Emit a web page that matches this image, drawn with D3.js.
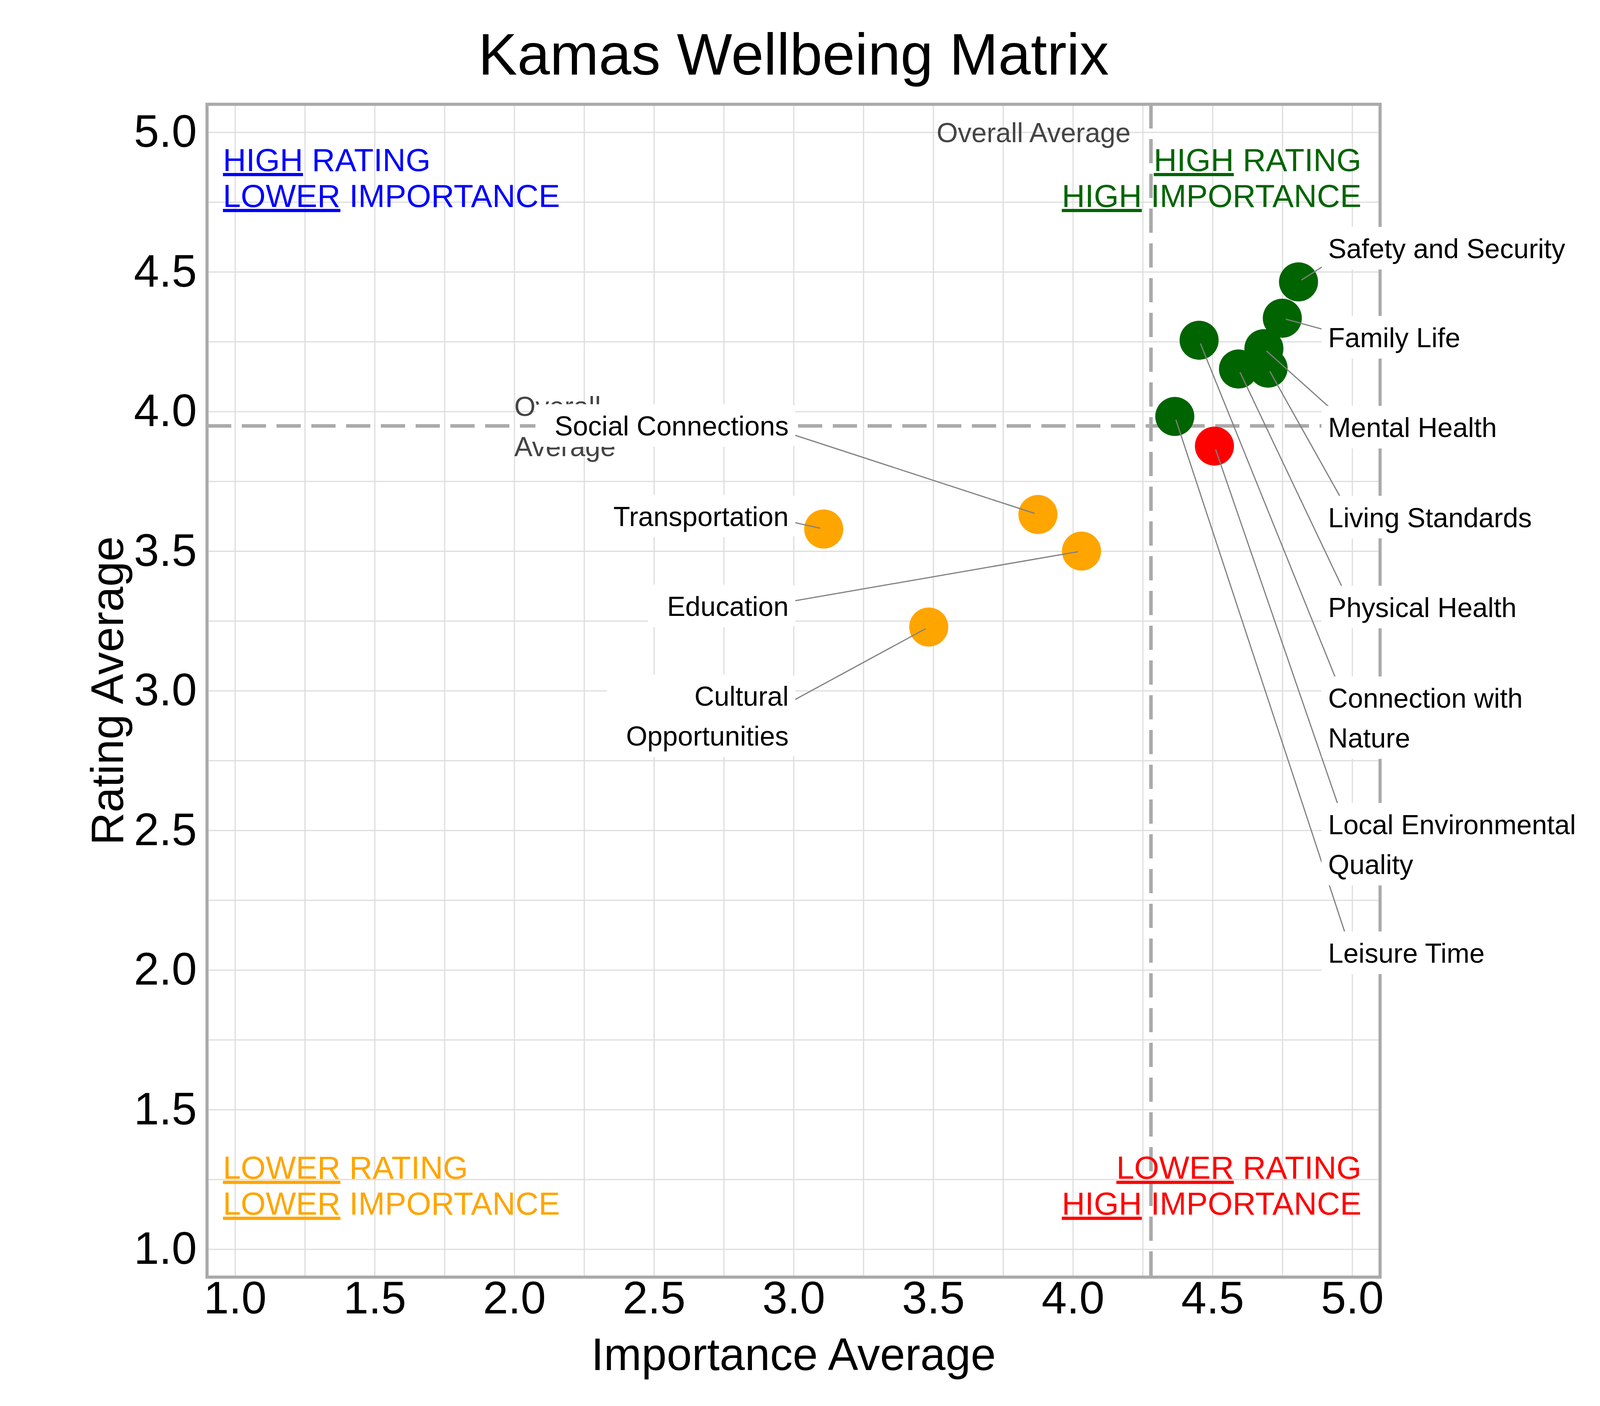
<!DOCTYPE html>
<html>
<head>
<meta charset="utf-8">
<script src="https://cdn.jsdelivr.net/npm/d3@7"></script>
<style>
  body { margin: 0; background: #fff; }
  svg { display: block; font-family: "Liberation Sans", Arial, sans-serif; }
</style>
</head>
<body>
<svg id="chart"></svg>
<script>
// wellbeing factors
const factors = ["Safety and Security", "Family Life", "Mental Health", "Living Standards",
  "Physical Health", "Connection with Nature", "Local Environmental Quality", "Leisure Time",
  "Social Connections", "Education", "Transportation", "Cultural Opportunities"]
const importance = [4.808, 4.750, 4.684, 4.699, 4.593, 4.452, 4.507, 4.365, 3.875, 4.031, 3.108, 3.484]
const rating = [4.464, 4.334, 4.225, 4.155, 4.152, 4.255, 3.876, 3.982, 3.631, 3.500, 3.579, 3.228]

// labels as printed (with their line breaks) and where they were placed, in data units
const labelLines = [["Safety and Security"], ["Family Life"], ["Mental Health"], ["Living Standards"],
  ["Physical Health"], ["Connection with", "Nature"], ["Local Environmental", "Quality"], ["Leisure Time"],
  ["Social Connections"], ["Education"], ["Transportation"], ["Cultural", "Opportunities"]]
const labelX = [4.914, 4.914, 4.914, 4.914, 4.914, 4.914, 4.914, 4.914, 2.9825, 2.9825, 2.9825, 2.9825]
const labelY = [4.549, 4.230, 3.908, 3.586, 3.264, 2.939, 2.486, 2.026, 3.914, 3.268, 3.590, 2.946]

// ticks
const xTicks = [1.0, 1.5, 2.0, 2.5, 3.0, 3.5, 4.0, 4.5, 5.0]
const yTicks = [1.0, 1.5, 2.0, 2.5, 3.0, 3.5, 4.0, 4.5, 5.0]
const gridTicks = [1.0, 1.25, 1.5, 1.75, 2.0, 2.25, 2.5, 2.75, 3.0, 3.25, 3.5, 3.75, 4.0, 4.25, 4.5, 4.75, 5.0]

// quadrant captions: [underlined word, rest]
const quadrantLines = {
  topLeft: [["HIGH", " RATING"], ["LOWER", " IMPORTANCE"]],
  topRight: [["HIGH", " RATING"], ["HIGH", " IMPORTANCE"]],
  bottomLeft: [["LOWER", " RATING"], ["LOWER", " IMPORTANCE"]],
  bottomRight: [["LOWER", " RATING"], ["HIGH", " IMPORTANCE"]]
}

const W = 4200, H = 3600
const margin = {left: 530, right: 667, top: 267, bottom: 330}
const x0 = margin.left, x1 = W - margin.right
const y0 = margin.top, y1 = H - margin.bottom

const x = d3.scaleLinear().domain([0.9, 5.1]).range([x0, x1])
const y = d3.scaleLinear().domain([0.9, 5.1]).range([y1, y0])

const svg = d3.select("#chart").attr("width", W).attr("height", H)
svg.append("rect").attr("width", W).attr("height", H).attr("fill", "#fff")

// grid
const gridX = svg.append("g")
  .attr("transform", "translate(0," + y1 + ")")
  .call(d3.axisBottom(x).tickValues(gridTicks).tickSize(-(y1 - y0)).tickFormat(""))
gridX.select(".domain").remove()
gridX.selectAll("line").attr("stroke", "#dddddd").attr("stroke-width", 3)

const gridY = svg.append("g")
  .attr("transform", "translate(" + x0 + ",0)")
  .call(d3.axisLeft(y).tickValues(gridTicks).tickSize(-(x1 - x0)).tickFormat(""))
gridY.select(".domain").remove()
gridY.selectAll("line").attr("stroke", "#dddddd").attr("stroke-width", 3)

// overall averages
const avgX = d3.mean(importance)
const avgY = d3.mean(rating)

svg.append("line")
  .attr("x1", x(avgX)).attr("x2", x(avgX))
  .attr("y1", y0).attr("y2", y1)
  .attr("stroke", "#aaaaaa").attr("stroke-width", 9)
  .attr("stroke-dasharray", "62,27")
svg.append("line")
  .attr("x1", x0).attr("x2", x1)
  .attr("y1", y(avgY)).attr("y2", y(avgY))
  .attr("stroke", "#aaaaaa").attr("stroke-width", 9)
  .attr("stroke-dasharray", "62,27")

svg.append("text")
  .attr("x", x(avgX) - 52).attr("y", y(5.0) + 25)
  .attr("text-anchor", "end")
  .attr("font-size", 70).attr("fill", "#444444")
  .text("Overall Average")

const avgLabel = svg.append("text")
  .attr("font-size", 70).attr("fill", "#444444")
avgLabel.append("tspan").attr("x", x(2.0)).attr("y", y(avgY) - 25).text("Overall")
avgLabel.append("tspan").attr("x", x(2.0)).attr("y", y(avgY) + 78).text("Average")

// colour by quadrant
const colorOf = i => {
  const hiI = importance[i] >= avgX, hiR = rating[i] >= avgY
  if (hiI && hiR) return "#006400"
  if (hiI && !hiR) return "#ff0000"
  if (!hiI && !hiR) return "#ffa500"
  return "#0000ff"
}

const idx = d3.range(factors.length)

svg.append("g").selectAll("circle")
  .data(idx)
  .enter().append("circle")
    .attr("cx", i => x(importance[i]))
    .attr("cy", i => y(rating[i]))
    .attr("r", 50)
    .attr("fill", colorOf)

// label geometry
const fs = 70, lineGap = 102
const geo = idx.map(i => {
  const onRight = labelX[i] > importance[i]
  const first = y(labelY[i])
  const last = first + (labelLines[i].length - 1) * lineGap
  return {i, onRight, ax: x(labelX[i]), first, last, mid: (first + last - 51) / 2}
})

// leader lines
svg.append("g").selectAll("line")
  .data(geo)
  .enter().append("line")
    .each(function(g) {
      const px = x(importance[g.i]), py = y(rating[g.i])
      const tx = g.onRight ? g.ax + 60 : g.ax - 60
      const dx = tx - px, dy = g.mid - py, len = Math.hypot(dx, dy)
      d3.select(this)
        .attr("x1", px + dx / len * 9).attr("y1", py + dy / len * 9)
        .attr("x2", tx).attr("y2", g.mid)
    })
    .attr("stroke", "#808080").attr("stroke-width", 3)

// frame
svg.append("rect")
  .attr("x", x0).attr("y", y0)
  .attr("width", x1 - x0).attr("height", y1 - y0)
  .attr("fill", "none").attr("stroke", "#aaaaaa").attr("stroke-width", 8)

// labels with white boxes
geo.forEach(g => {
  const grp = svg.append("g")
  const box = grp.append("rect").attr("fill", "#fff").attr("rx", 10)
  const t = grp.append("text")
    .attr("font-size", fs).attr("fill", "#000")
    .attr("text-anchor", g.onRight ? "start" : "end")
  labelLines[g.i].forEach((ln, k) => {
    t.append("tspan").attr("x", g.ax).attr("y", g.first + k * lineGap).text(ln)
  })
  const bb = t.node().getBBox()
  const padL = g.onRight ? 17 : 49, padR = g.onRight ? 49 : 17
  box.attr("x", bb.x - padL).attr("width", bb.width + padL + padR)
    .attr("y", g.first - 80).attr("height", g.last - g.first + 109)
})

// quadrant captions
const quad = (lines, xv, yv, anchor, color) => {
  lines.forEach((ln, k) => {
    const t = svg.append("text")
      .attr("x", x(xv)).attr("y", y(yv) + k * 92)
      .attr("text-anchor", anchor)
      .attr("font-size", 82).attr("fill", color)
    t.append("tspan").style("text-decoration", "underline").text(ln[0])
    t.append("tspan").text(ln[1])
  })
}
quad(quadrantLines.topLeft, 0.957, 4.861, "start", "#0000ff")
quad(quadrantLines.topRight, 5.033, 4.861, "end", "#006400")
quad(quadrantLines.bottomLeft, 0.957, 1.252, "start", "#ffa500")
quad(quadrantLines.bottomRight, 5.033, 1.252, "end", "#ff0000")

// axes
const ax = svg.append("g")
  .attr("transform", "translate(0," + y1 + ")")
  .call(d3.axisBottom(x).tickValues(xTicks).tickSize(0).tickPadding(11).tickFormat(d3.format(".1f")))
ax.select(".domain").remove()
ax.selectAll("text").attr("font-size", 116).attr("fill", "#000")
  .attr("font-family", "Liberation Sans, Arial, sans-serif")

const ay = svg.append("g")
  .attr("transform", "translate(" + x0 + ",0)")
  .call(d3.axisLeft(y).tickValues(yTicks).tickSize(0).tickPadding(26).tickFormat(d3.format(".1f")))
ay.select(".domain").remove()
ay.selectAll("text").attr("font-size", 116).attr("fill", "#000")
  .attr("font-family", "Liberation Sans, Arial, sans-serif")

svg.append("text")
  .attr("x", (x0 + x1) / 2).attr("y", 3508)
  .attr("text-anchor", "middle").attr("font-size", 116)
  .text("Importance Average")

svg.append("text")
  .attr("transform", "translate(315," + (y0 + y1) / 2 + ") rotate(-90)")
  .attr("text-anchor", "middle").attr("font-size", 116)
  .text("Rating Average")

svg.append("text")
  .attr("x", (x0 + x1) / 2).attr("y", 191)
  .attr("text-anchor", "middle").attr("font-size", 150)
  .text("Kamas Wellbeing Matrix")
</script>
</body>
</html>
